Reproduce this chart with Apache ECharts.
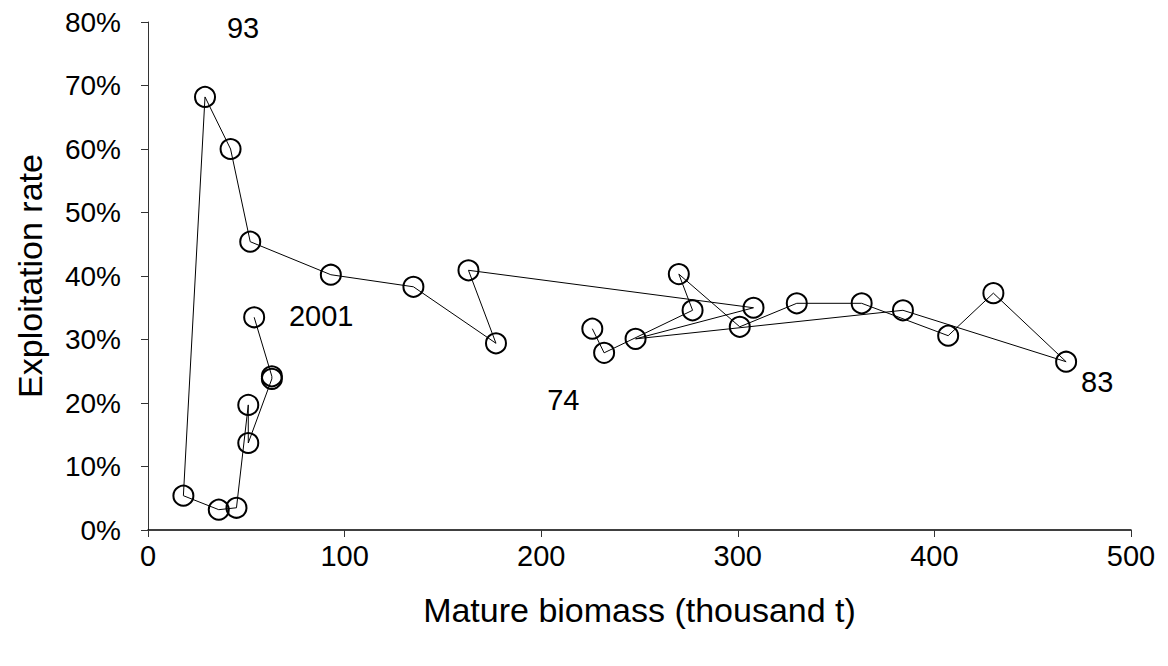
<!DOCTYPE html>
<html>
<head>
<meta charset="utf-8">
<script src="https://cdn.jsdelivr.net/npm/echarts@6/dist/echarts.min.js"></script>
<style>
html,body{margin:0;padding:0;background:#fff;}
#chart{width:1168px;height:666px;}
</style>
</head>
<body>
<div id="chart"></div>
<script>
// Years in chronological order
const years = [1974,1975,1976,1977,1978,1979,1980,1981,1982,1983,1984,1985,1986,1987,1988,1989,1990,1991,1992,1993,1994,1995,1996,1997,1998,1999,2000,2001];
// Mature biomass (thousand t)
const biomass = [226,232,277,270,301,330,363,407,430,467,384,248,308,163,177,135,93,52,42,29,18,36,45,51,51,63,63,54];
// Exploitation rate (%)
const exploitation = [31.7,27.9,34.6,40.3,32.0,35.7,35.7,30.6,37.3,26.5,34.6,30.1,35.0,40.9,29.4,38.3,40.2,45.4,60.0,68.2,5.4,3.2,3.5,19.7,13.7,23.8,24.2,33.5];
// Year annotations
const labelYears = [1974,1983,1993,2001];
const labelTexts = ['74','83','93','2001'];
const xTicks = [0,100,200,300,400,500];
const yTicks = [0,10,20,30,40,50,60,70,80];

const labelOffsets = {1974:[-29,71],1983:[31,20],1993:[38,-69],2001:[67,-1]};

const font = 'Liberation Sans, Arial, sans-serif';
const data = years.map((y,i)=>{
  const item = {value:[biomass[i], exploitation[i]]};
  const k = labelYears.indexOf(y);
  if(k>=0){
    item.label = {show:true, formatter: labelTexts[k], offset: labelOffsets[y], position:'inside',
      color:'#000', fontSize:29, fontFamily:font};
  }
  return item;
});

const chart = echarts.init(document.getElementById('chart'), null, {renderer:'svg'});
chart.setOption({
  animation:false,
  backgroundColor:'#fff',
  grid:{left:148,right:37,top:22,bottom:136},
  xAxis:{
    type:'value', min:xTicks[0], max:xTicks[xTicks.length-1], interval:100,
    splitLine:{show:false},
    axisLine:{lineStyle:{color:'#000',width:1.5}},
    axisTick:{show:true,length:7,lineStyle:{color:'#333'}},
    axisLabel:{color:'#000',fontSize:29,fontFamily:font,margin:11},
    name:'Mature biomass (thousand t)', nameLocation:'middle', nameGap:63,
    nameTextStyle:{color:'#000',fontSize:34,fontFamily:font}
  },
  yAxis:{
    type:'value', min:yTicks[0], max:yTicks[yTicks.length-1], interval:10,
    splitLine:{show:false},
    axisLine:{show:true,lineStyle:{color:'#333',width:1}},
    axisTick:{show:true,length:7,lineStyle:{color:'#333'}},
    axisLabel:{color:'#000',fontSize:28,fontFamily:font,margin:27,formatter:'{value}%'},
    name:'Exploitation rate', nameLocation:'middle', nameGap:101,
    nameTextStyle:{color:'#000',fontSize:34,fontFamily:font}
  },
  series:[{
    type:'line',
    data:data,
    symbol:'circle',
    symbolSize:20,
    showAllSymbol:true,
    lineStyle:{color:'#000',width:1},
    itemStyle:{color:'rgba(0,0,0,0)',borderColor:'#000',borderWidth:2},
    label:{show:false},
    z:2
  }]
});
</script>
</body>
</html>
